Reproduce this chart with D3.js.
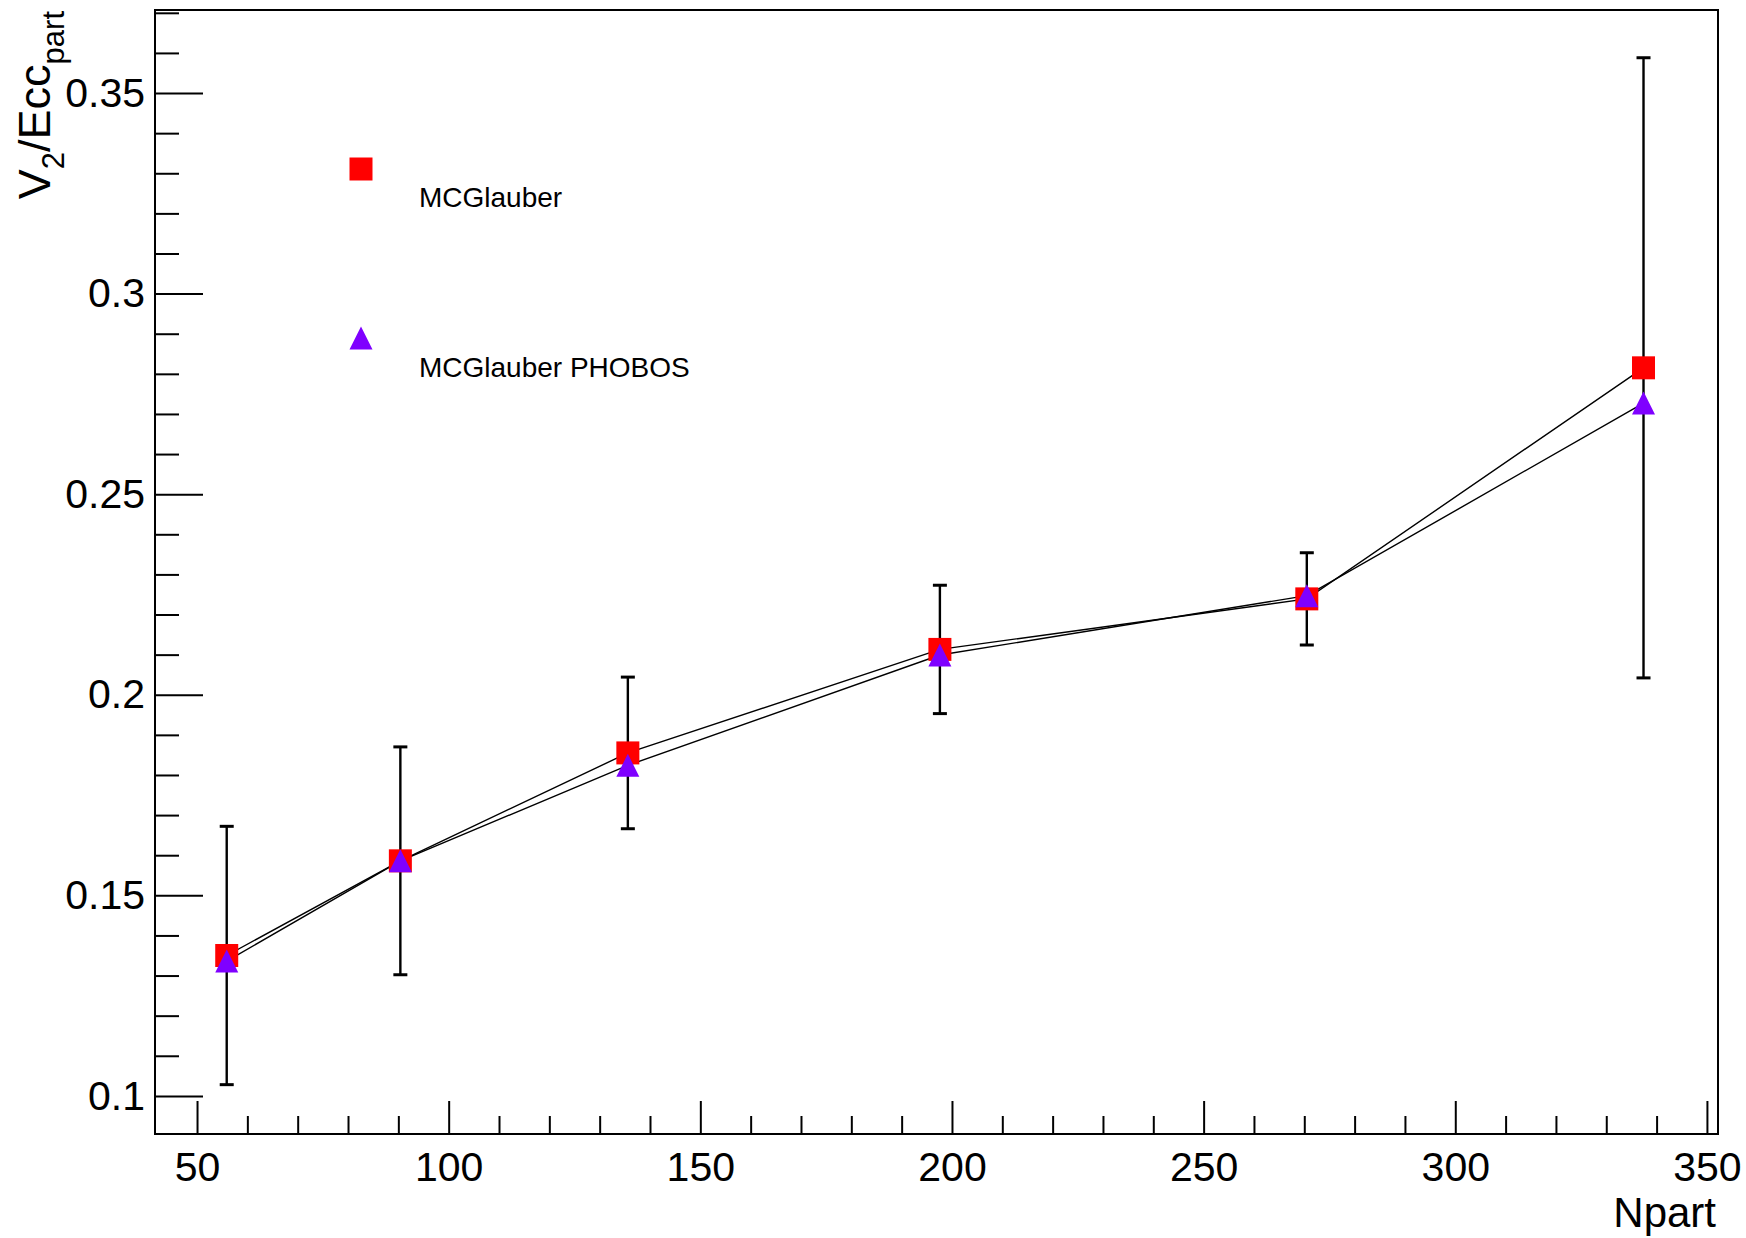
<!DOCTYPE html>
<html>
<head>
<meta charset="utf-8">
<script src="https://cdn.jsdelivr.net/npm/d3@7"></script>
<style>
  body { margin: 0; background: #fff; }
  svg { display: block; font-family: "Liberation Sans", Arial, sans-serif; }
</style>
</head>
<body>
<svg id="chart" width="1746" height="1238"></svg>
<script>
// data
const npart = [55.9, 90.4, 135.6, 197.6, 270.5, 337.4];
const mcglauber = [0.1350, 0.1586, 0.1855, 0.2113, 0.2239, 0.2815];
const mcglauberErr = [0.0322, 0.0284, 0.0189, 0.0160, 0.0115, 0.0773];
const phobos = [0.1336, 0.1586, 0.1824, 0.2099, 0.2247, 0.2727];

const xTicks = [50, 100, 150, 200, 250, 300, 350];
const xTickLabels = ["50", "100", "150", "200", "250", "300", "350"];
const yTicks = [0.1, 0.15, 0.2, 0.25, 0.3, 0.35];
const yTickLabels = ["0.1", "0.15", "0.2", "0.25", "0.3", "0.35"];

const legendLabels = ["MCGlauber", "MCGlauber PHOBOS"];

const width = 1746;
const height = 1238;
const marginLeft = 155;
const marginRight = 28;
const marginTop = 10;
const marginBottom = 104;

const red = "#ff0000";
const violet = "#7f00ff";

const svg = d3.select("#chart");

const xscale = d3.scaleLinear()
    .domain([41.65, 352.2])
    .range([marginLeft, width - marginRight]);

const yscale = d3.scaleLinear()
    .domain([0.0905, 0.3707])
    .range([height - marginBottom, marginTop]);

// axes: ticks point into the frame, ROOT style
const axes = svg.append("g").attr("id", "axes");

const xMinor = d3.range(50, 351, 10).filter(v => xTicks.indexOf(v) < 0);
axes.append("g")
    .attr("transform", `translate(${[0, height - marginBottom]})`)
    .call(d3.axisBottom(xscale).tickValues(xMinor).tickSizeInner(-18).tickSizeOuter(0).tickFormat(""))
    .call(g => g.select(".domain").remove());

axes.append("g")
    .attr("transform", `translate(${[0, height - marginBottom]})`)
    .call(d3.axisBottom(xscale).tickValues(xTicks).tickSizeInner(-33).tickSizeOuter(0)
          .tickPadding(18).tickFormat((d, i) => xTickLabels[i]))
    .call(g => g.select(".domain").remove())
    .attr("font-size", 41)
    .attr("font-family", null);

const yMinor = d3.range(10, 38).map(v => v / 100).filter(v => yTicks.every(t => Math.abs(t - v) > 1e-9));
axes.append("g")
    .attr("transform", `translate(${[marginLeft, 0]})`)
    .call(d3.axisLeft(yscale).tickValues(yMinor).tickSizeInner(-24).tickSizeOuter(0).tickFormat(""))
    .call(g => g.select(".domain").remove());

axes.append("g")
    .attr("transform", `translate(${[marginLeft, 0]})`)
    .call(d3.axisLeft(yscale).tickValues(yTicks).tickSizeInner(-48).tickSizeOuter(0)
          .tickPadding(10).tickFormat((d, i) => yTickLabels[i]))
    .call(g => g.select(".domain").remove())
    .attr("font-size", 41)
    .attr("font-family", null);

axes.selectAll(".tick line").attr("stroke", "#000").attr("stroke-width", 2);
axes.selectAll(".tick text").attr("fill", "#000");

// frame
svg.append("rect")
    .attr("x", marginLeft)
    .attr("y", marginTop)
    .attr("width", width - marginLeft - marginRight)
    .attr("height", height - marginTop - marginBottom)
    .attr("fill", "none")
    .attr("stroke", "#000")
    .attr("stroke-width", 2);

// axis titles
svg.append("text")
    .attr("x", 1716)
    .attr("y", 1227)
    .attr("text-anchor", "end")
    .attr("font-size", 42)
    .text("Npart");

const ytitle = svg.append("text")
    .attr("transform", `translate(${[50, 11]}) rotate(-90)`)
    .attr("text-anchor", "end")
    .attr("font-size", 45);
ytitle.append("tspan").text("V");
ytitle.append("tspan").attr("font-size", 31).attr("dy", 14).text("2");
ytitle.append("tspan").attr("dy", -14).text("/Ecc");
ytitle.append("tspan").attr("font-size", 31).attr("dy", 14).text("part");

// error bars (on the MCGlauber points)
const errs = svg.append("g").attr("id", "errors")
    .attr("stroke", "#000").attr("stroke-width", 2.4);
npart.forEach((x, i) => {
    const cx = xscale(x);
    const lo = yscale(mcglauber[i] - mcglauberErr[i]);
    const hi = yscale(mcglauber[i] + mcglauberErr[i]);
    errs.append("line").attr("x1", cx).attr("x2", cx).attr("y1", lo).attr("y2", hi);
    errs.append("line").attr("x1", cx - 7).attr("x2", cx + 7).attr("y1", lo).attr("y2", lo).attr("stroke-width", 3);
    errs.append("line").attr("x1", cx - 7).attr("x2", cx + 7).attr("y1", hi).attr("y2", hi).attr("stroke-width", 3);
});

// connecting lines
const line = d3.line()
    .x((d, i) => xscale(npart[i]))
    .y(d => yscale(d));

const lines = svg.append("g").attr("id", "lines");
[mcglauber, phobos].forEach(series => {
    lines.append("path")
        .attr("d", line(series))
        .attr("fill", "none")
        .attr("stroke", "#000")
        .attr("stroke-width", 1.4);
});

// markers
const squarePath = "M-11.5,-11.5H11.5V11.5H-11.5Z";
const trianglePath = "M0,-11.5L11.5,11.5H-11.5Z";

svg.append("g").selectAll("path")
    .data(mcglauber)
    .join("path")
    .attr("d", squarePath)
    .attr("transform", (d, i) => `translate(${[xscale(npart[i]), yscale(d)]})`)
    .attr("fill", red);

svg.append("g").selectAll("path")
    .data(phobos)
    .join("path")
    .attr("d", trianglePath)
    .attr("transform", (d, i) => `translate(${[xscale(npart[i]), yscale(d)]})`)
    .attr("fill", violet);

// legend
const legend = svg.append("g").attr("id", "legend");
const legendMarkers = [[squarePath, red], [trianglePath, violet]];
const legendMarkerY = [169, 338];
const legendTextY = [207, 377];
legendLabels.forEach((label, i) => {
    legend.append("path")
        .attr("d", legendMarkers[i][0])
        .attr("transform", `translate(${[361, legendMarkerY[i]]})`)
        .attr("fill", legendMarkers[i][1]);
    legend.append("text")
        .attr("x", 419)
        .attr("y", legendTextY[i])
        .attr("font-size", 28)
        .text(label);
});
</script>
</body>
</html>
